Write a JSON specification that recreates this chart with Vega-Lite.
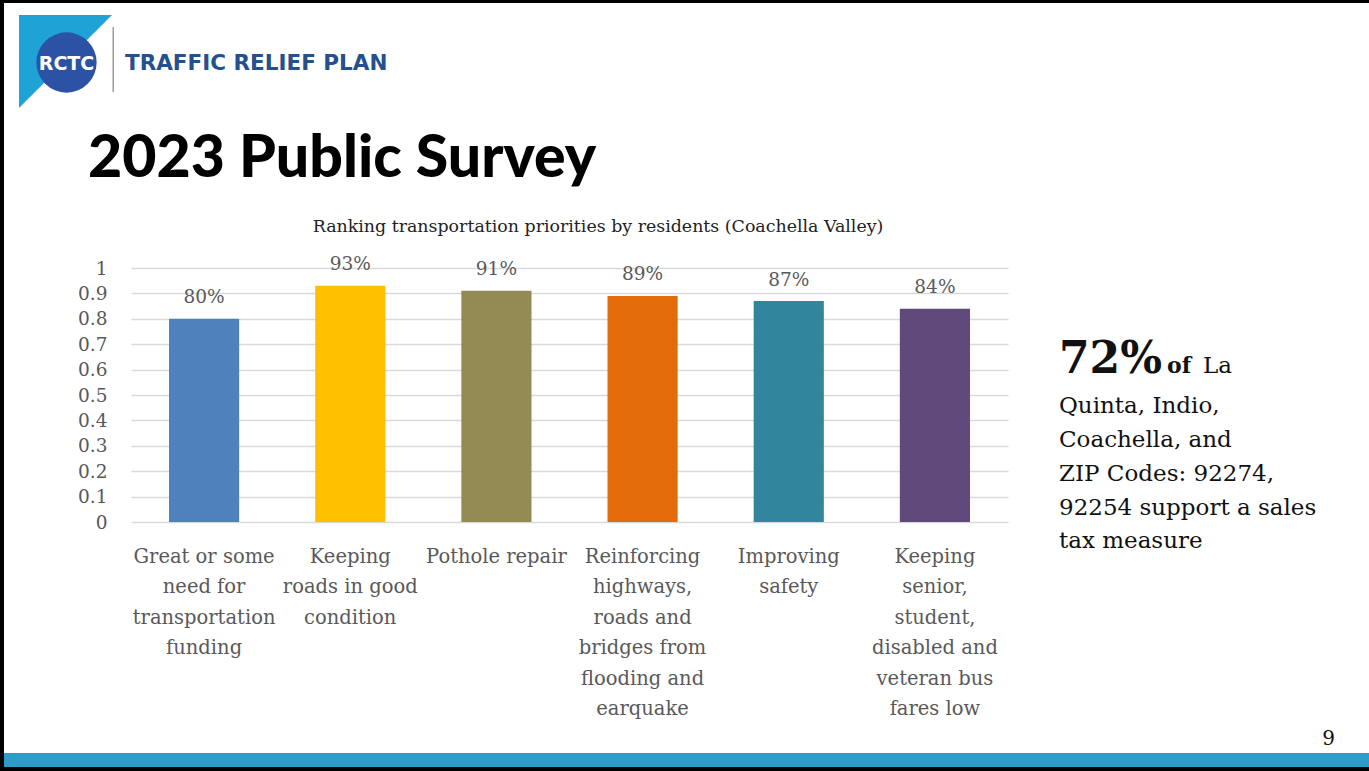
{
  "$schema": "https://vega.github.io/schema/vega-lite/v6.json",
  "padding": 0,
  "background": "white",
  "spacing": 0,
  "hconcat": [
    {
      "width": 4, "height": 771,
      "view": {"fill": "black", "stroke": null},
      "data": {"values": [{}]},
      "mark": {"type": "text", "text": "", "fontSize": 0}
    },
    {
      "spacing": 0,
      "vconcat": [
        {
          "width": 1365, "height": 3,
          "view": {"fill": "black", "stroke": null},
          "data": {"values": [{}]},
          "mark": {"type": "text", "text": "", "fontSize": 0}
        },
        {
          "spacing": 8,
          "vconcat": [
            {
              "width": 125, "height": 119,
              "view": {"stroke": null},
              "data": {"values": [{"logo": "RCTC", "plan": "TRAFFIC RELIEF PLAN"}]},
              "layer": [
                {"mark": {"type": "point", "shape": "M -47.5 -47.5 L 45.5 -47.5 L -47.5 45.5 Z", "size": 4, "filled": true, "color": "#1fa3d6", "opacity": 1, "strokeWidth": 0}, "encoding": {}},
                {"mark": {"type": "point", "shape": "circle", "size": 3632, "filled": true, "color": "#2b52a4", "opacity": 1, "strokeWidth": 0}, "encoding": {}},
                {"mark": {"type": "point", "shape": "M 46 -35.5 L 47.5 -35.5 L 47.5 29.5 L 46 29.5 Z", "size": 4, "filled": true, "color": "#9c9c9c", "opacity": 1, "strokeWidth": 0}, "encoding": {}},
                {"mark": {"type": "text", "font": "DejaVu Sans", "fontWeight": "bold", "fontSize": 19, "color": "white", "baseline": "middle", "align": "center", "dy": 1.5}, "encoding": {"text": {"field": "logo"}}},
                {"mark": {"type": "text", "font": "DejaVu Sans", "fontWeight": "bold", "fontSize": 21.5, "color": "#24508f", "baseline": "middle", "align": "left", "dx": 58.5, "dy": 1.5}, "encoding": {"text": {"field": "plan"}}}
              ]
            },
            {
              "spacing": 10,
              "title": {"text": "2023 Public Survey", "anchor": "start", "frame": "bounds", "baseline": "top", "dx": 84, "offset": 29, "font": "Lato", "fontWeight": 900, "fontSize": 59, "color": "#000000"},
              "hconcat": [
                {
                  "width": 57, "height": 1,
                  "view": {"stroke": null},
                  "data": {"values": [{}]},
                  "mark": {"type": "text", "text": "", "fontSize": 0}
                },
                {
                  "width": 877, "height": 254,
                  "view": {"stroke": null},
                  "title": {"text": "Ranking transportation priorities by residents (Coachella Valley)", "anchor": "middle", "frame": "bounds", "baseline": "top", "dx": 58.5, "offset": 19.6, "font": "DejaVu Serif", "fontWeight": "normal", "fontSize": 17.4, "color": "#222222"},
                  "data": {"values": [
                    {"priority": "Great or some need for transportation funding", "share": 0.80},
                    {"priority": "Keeping roads in good condition", "share": 0.93},
                    {"priority": "Pothole repair", "share": 0.91},
                    {"priority": "Reinforcing highways, roads and bridges from flooding and earquake", "share": 0.89},
                    {"priority": "Improving safety", "share": 0.87},
                    {"priority": "Keeping senior, student, disabled and veteran bus fares low", "share": 0.84}
                  ]},
                  "encoding": {
                    "x": {
                      "field": "priority", "type": "nominal", "sort": null,
                      "scale": {"paddingInner": 0.52, "paddingOuter": 0.26},
                      "axis": {
                        "title": null, "labelAngle": 0, "ticks": false, "tickSize": 0, "domain": false,
                        "labelPadding": 25.6, "labelFont": "DejaVu Serif", "labelFontSize": 19.5,
                        "labelColor": "#595959", "labelLineHeight": 30.4, "labelLimit": 400, "labelOverlap": false,
                        "labelExpr": "{'Great or some need for transportation funding': ['Great or some','need for','transportation','funding'], 'Keeping roads in good condition': ['Keeping','roads in good','condition'], 'Pothole repair': 'Pothole repair', 'Reinforcing highways, roads and bridges from flooding and earquake': ['Reinforcing','highways,','roads and','bridges from','flooding and','earquake'], 'Improving safety': ['Improving','safety'], 'Keeping senior, student, disabled and veteran bus fares low': ['Keeping','senior,','student,','disabled and','veteran bus','fares low']}[datum.value]"
                      }
                    },
                    "y": {
                      "field": "share", "type": "quantitative",
                      "scale": {"domain": [0, 1], "nice": false},
                      "axis": {
                        "title": null, "domain": false, "ticks": false, "tickSize": 0, "grid": true,
                        "gridColor": "#d9d9d9", "gridWidth": 1.5, "tickCount": 10, "format": ".1~f",
                        "labelPadding": 24, "labelFont": "DejaVu Serif", "labelFontSize": 18.5,
                        "labelColor": "#595959", "minExtent": 60, "maxExtent": 60
                      }
                    }
                  },
                  "layer": [
                    {
                      "mark": {"type": "bar"},
                      "encoding": {
                        "color": {
                          "field": "priority", "type": "nominal", "legend": null,
                          "scale": {
                            "domain": ["Great or some need for transportation funding", "Keeping roads in good condition", "Pothole repair", "Reinforcing highways, roads and bridges from flooding and earquake", "Improving safety", "Keeping senior, student, disabled and veteran bus fares low"],
                            "range": ["#4f81bd", "#ffc000", "#948a54", "#e36c0a", "#31859c", "#604a7b"]
                          }
                        }
                      }
                    },
                    {
                      "mark": {"type": "text", "baseline": "alphabetic", "align": "center", "dy": -15.5, "font": "DejaVu Serif", "fontSize": 18.5, "color": "#595959"},
                      "encoding": {"text": {"field": "share", "type": "quantitative", "format": ".0%"}}
                    }
                  ]
                },
                {
                  "width": 82, "height": 461,
                  "view": {"stroke": null},
                  "data": {"values": [
                    {"line": 1, "part": "big", "text": "72%"},
                    {"line": 1, "part": "of", "text": "of"},
                    {"line": 1, "part": "la", "text": "La"},
                    {"line": 2, "part": "body", "text": "Quinta,  Indio,"},
                    {"line": 3, "part": "body", "text": "Coachella, and"},
                    {"line": 4, "part": "body", "text": "ZIP Codes: 92274,"},
                    {"line": 5, "part": "body", "text": "92254 support a sales"},
                    {"line": 6, "part": "body", "text": "tax measure"}
                  ]},
                  "encoding": {
                    "y": {"field": "line", "type": "ordinal", "axis": null, "scale": {"type": "point", "padding": 0, "range": [111.5, 280.25]}},
                    "text": {"field": "text"}
                  },
                  "layer": [
                    {"transform": [{"filter": "datum.part == 'big'"}], "mark": {"type": "text", "align": "left", "baseline": "alphabetic", "dy": -6.5, "font": "DejaVu Serif", "fontWeight": "bold", "fontSize": 44, "color": "#111111"}},
                    {"transform": [{"filter": "datum.part == 'of'"}], "mark": {"type": "text", "align": "left", "baseline": "alphabetic", "dx": 108, "dy": -6.5, "font": "DejaVu Serif", "fontWeight": "bold", "fontSize": 22, "color": "#111111"}},
                    {"transform": [{"filter": "datum.part == 'la'"}], "mark": {"type": "text", "align": "left", "baseline": "alphabetic", "dx": 144, "dy": -6.5, "font": "DejaVu Serif", "fontSize": 23, "color": "#111111"}},
                    {"transform": [{"filter": "datum.part == 'body'"}], "mark": {"type": "text", "align": "left", "baseline": "alphabetic", "font": "DejaVu Serif", "fontSize": 23, "color": "#111111"}}
                  ]
                }
              ]
            }
          ]
        },
        {
          "spacing": 0,
          "vconcat": [
            {
              "width": 1365, "height": 14,
              "view": {"fill": "#2e9ccb", "stroke": null},
              "title": {"text": "9", "anchor": "end", "frame": "group", "baseline": "top", "dx": -34, "offset": 4, "font": "DejaVu Serif", "fontWeight": "normal", "fontSize": 20, "color": "#111111"},
              "data": {"values": [{}]},
              "mark": {"type": "text", "text": "", "fontSize": 0}
            },
            {
              "width": 1365, "height": 4,
              "view": {"fill": "black", "stroke": null},
              "data": {"values": [{}]},
              "mark": {"type": "text", "text": "", "fontSize": 0}
            }
          ]
        }
      ]
    }
  ]
}
